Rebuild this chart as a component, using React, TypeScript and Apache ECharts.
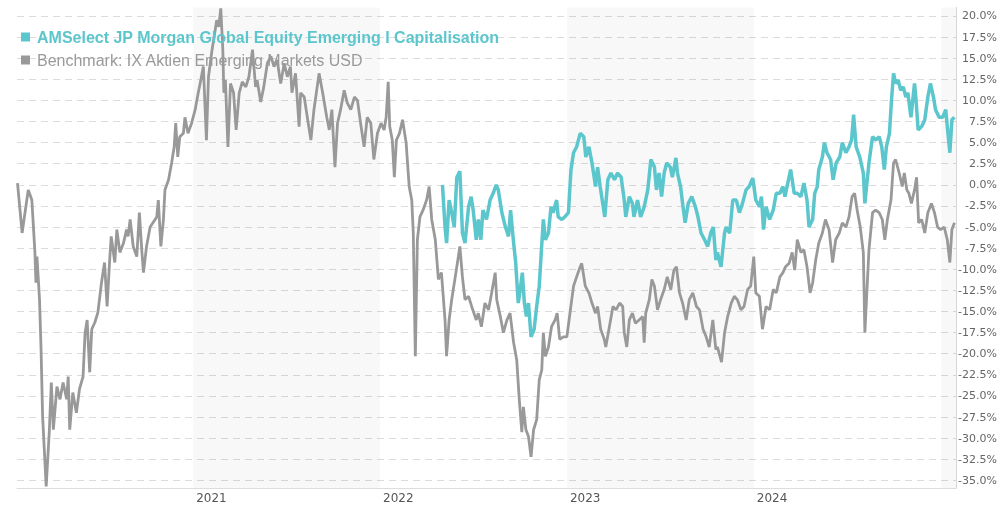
import React, { useEffect, useRef } from "react";
import * as echarts from "echarts";

const fundName = "AMSelect JP Morgan Global Equity Emerging I Capitalisation";
const benchName = "Benchmark: IX Aktien Emerging Markets USD";

const benchmark: [string, number][] = [
["2020-01-24",0.2],["2020-02-02",-5.7],["2020-02-14",-0.6],["2020-02-21",-1.8],["2020-02-27",-8],["2020-02-29",-11.6],["2020-03-02",-8.5],["2020-03-07",-13.6],["2020-03-10",-19.5],["2020-03-13",-27.4],["2020-03-20",-35.7],["2020-03-26",-29.3],["2020-03-30",-23.4],["2020-04-03",-29],["2020-04-10",-23.9],["2020-04-16",-25.4],["2020-04-22",-23.4],["2020-04-29",-25.4],["2020-05-02",-22.7],["2020-05-05",-29],["2020-05-11",-24.6],["2020-05-18",-27],["2020-05-24",-24.2],["2020-05-31",-22.7],["2020-06-04",-17.5],["2020-06-08",-16],["2020-06-13",-22.2],["2020-06-17",-17.1],["2020-06-23",-16.3],["2020-06-29",-15.1],["2020-07-06",-11.6],["2020-07-12",-9.2],["2020-07-17",-14.4],["2020-07-22",-8.9],["2020-07-25",-6.1],["2020-08-01",-9.2],["2020-08-05",-5.3],["2020-08-11",-8],["2020-08-18",-6.9],["2020-08-24",-5.3],["2020-08-27",-6.1],["2020-08-31",-4.1],["2020-09-06",-7.3],["2020-09-13",-8.5],["2020-09-18",-3.3],["2020-09-23",-8],["2020-09-26",-10.4],["2020-10-02",-7.3],["2020-10-09",-5],["2020-10-22",-3.8],["2020-10-25",-1.8],["2020-10-30",-7.3],["2020-11-04",-4.1],["2020-11-07",-0.6],["2020-11-14",0.6],["2020-11-20",2.6],["2020-11-25",4.5],["2020-11-28",7.3],["2020-12-02",3.3],["2020-12-06",5.7],["2020-12-13",6.1],["2020-12-16",8],["2020-12-22",6.1],["2020-12-29",7.3],
["2021-01-05",8.9],["2021-01-11",10.9],["2021-01-16",12.4],["2021-01-21",14],["2021-01-27",5.3],["2021-01-31",12.8],["2021-02-07",16],["2021-02-11",17.5],["2021-02-16",19.5],["2021-02-20",18.7],["2021-02-24",20.9],["2021-02-28",16],["2021-03-02",10.9],["2021-03-05",12.4],["2021-03-10",4.5],["2021-03-15",12],["2021-03-21",10.9],["2021-03-26",6.5],["2021-04-01",10.9],["2021-04-07",12.2],["2021-04-14",11.6],["2021-04-20",12.8],["2021-04-27",16],["2021-05-03",11.6],["2021-05-06",12.4],["2021-05-13",9.8],["2021-05-19",11.6],["2021-05-26",14.4],["2021-06-02",15.2],["2021-06-08",14],["2021-06-14",14.8],["2021-06-21",12],["2021-06-28",14.4],["2021-07-04",12.8],["2021-07-10",14],["2021-07-13",10.9],["2021-07-20",13.2],["2021-07-27",6.9],["2021-07-30",10.9],["2021-08-06",10.4],["2021-08-12",8],["2021-08-19",5.3],["2021-08-25",8.9],["2021-09-04",13.2],["2021-09-11",10.9],["2021-09-19",8],["2021-09-24",6.5],["2021-09-29",8.9],["2021-10-05",2.1],["2021-10-10",7.3],["2021-10-16",8.9],["2021-10-23",11.2],["2021-10-29",9.7],["2021-11-05",8.9],["2021-11-12",10.4],["2021-11-18",10],["2021-11-25",6.9],["2021-12-01",4.5],["2021-12-07",8],["2021-12-14",7.3],["2021-12-20",3],["2021-12-27",6.1],
["2022-01-03",7.3],["2022-01-09",6.5],["2022-01-13",8],["2022-01-17",12.2],["2022-01-20",6.9],["2022-01-25",5.3],["2022-01-29",0.9],["2022-02-02",5.3],["2022-02-08",6.1],["2022-02-14",7.7],["2022-02-21",5],["2022-02-27",-0.2],["2022-03-04",-1.8],["2022-03-07",-5.7],["2022-03-11",-20.3],["2022-03-15",-6.5],["2022-03-20",-3.8],["2022-03-26",-3],["2022-04-02",-1.8],["2022-04-07",-0.2],["2022-04-12",-4.1],["2022-04-19",-6.5],["2022-04-25",-11.2],["2022-05-01",-10.4],["2022-05-08",-16],["2022-05-11",-20.3],["2022-05-16",-16],["2022-05-21",-13.6],["2022-05-28",-10.9],["2022-06-03",-8.5],["2022-06-06",-7.3],["2022-06-11",-10.9],["2022-06-16",-13.6],["2022-06-23",-13.2],["2022-06-29",-14.4],["2022-07-08",-16],["2022-07-12",-15.2],["2022-07-18",-16.8],["2022-07-25",-14],["2022-08-01",-14.8],["2022-08-07",-12.8],["2022-08-14",-10.4],["2022-08-17",-13.6],["2022-08-24",-15.6],["2022-08-30",-17.5],["2022-09-06",-16],["2022-09-12",-15.2],["2022-09-19",-18.7],["2022-09-25",-20.7],["2022-09-30",-25.4],["2022-10-05",-29.3],["2022-10-08",-26.3],["2022-10-13",-29],["2022-10-18",-29.8],["2022-10-23",-32.2],["2022-10-28",-29],["2022-11-03",-27.8],["2022-11-08",-23.1],["2022-11-13",-21.9],["2022-11-16",-17.5],["2022-11-20",-20.3],["2022-11-26",-19.2],["2022-12-02",-16.8],["2022-12-09",-16],["2022-12-13",-15.2],["2022-12-18",-18.3],["2022-12-25",-18],
["2023-01-01",-18],["2023-01-07",-15.2],["2023-01-14",-12],["2023-01-20",-10.9],["2023-01-27",-9.7],["2023-01-30",-9.3],["2023-02-06",-12],["2023-02-13",-12.8],["2023-02-19",-14],["2023-02-26",-15.2],["2023-03-02",-14.4],["2023-03-08",-17.1],["2023-03-15",-18.3],["2023-03-18",-19.2],["2023-03-25",-16.8],["2023-04-01",-14.4],["2023-04-07",-14.8],["2023-04-14",-14],["2023-04-20",-14.4],["2023-04-23",-17.5],["2023-04-28",-19.2],["2023-05-03",-16],["2023-05-09",-15.2],["2023-05-15",-16.4],["2023-05-22",-16],["2023-05-29",-15.6],["2023-06-01",-18.7],["2023-06-04",-15.2],["2023-06-11",-13.6],["2023-06-16",-11.2],["2023-06-21",-12],["2023-06-27",-14.8],["2023-07-03",-13.6],["2023-07-10",-12.4],["2023-07-16",-10.9],["2023-07-23",-12.4],["2023-07-29",-10.1],["2023-08-03",-9.7],["2023-08-09",-12.8],["2023-08-15",-14],["2023-08-22",-16],["2023-08-28",-13.6],["2023-09-04",-12.8],["2023-09-11",-14.4],["2023-09-17",-14.8],["2023-09-24",-17.1],["2023-09-30",-18],["2023-10-06",-19.2],["2023-10-13",-16],["2023-10-19",-19.5],["2023-10-22",-19.2],["2023-10-30",-21],["2023-11-05",-17.5],["2023-11-11",-15.6],["2023-11-18",-14],["2023-11-24",-13.2],["2023-11-30",-13.6],["2023-12-07",-14.8],["2023-12-13",-14.4],["2023-12-20",-12.4],["2023-12-26",-12],
["2024-01-01",-8.5],["2024-01-05",-12.8],["2024-01-12",-13.2],["2024-01-18",-17.1],["2024-01-25",-14.4],["2024-02-01",-14.8],["2024-02-08",-12.4],["2024-02-14",-12.8],["2024-02-21",-10.9],["2024-02-27",-10.4],["2024-03-03",-9.7],["2024-03-10",-9.3],["2024-03-16",-8],["2024-03-21",-10.1],["2024-03-26",-6.5],["2024-04-02",-8],["2024-04-08",-7.7],["2024-04-14",-9.7],["2024-04-20",-12.8],["2024-04-25",-11.6],["2024-05-01",-8.9],["2024-05-07",-6.9],["2024-05-14",-5.7],["2024-05-20",-4.1],["2024-05-27",-5.3],["2024-06-03",-9.2],["2024-06-09",-6.5],["2024-06-16",-5.7],["2024-06-22",-4.5],["2024-06-29",-5],["2024-07-05",-3.8],["2024-07-11",-1.4],["2024-07-16",-1],["2024-07-21",-3],["2024-07-27",-5],["2024-08-02",-8],["2024-08-05",-17.5],["2024-08-13",-7.7],["2024-08-20",-3.3],["2024-08-26",-3],["2024-09-02",-3.3],["2024-09-08",-4.1],["2024-09-13",-6.5],["2024-09-18",-4.1],["2024-09-25",-1.8],["2024-09-30",2.6],["2024-10-04",3],["2024-10-11",1.4],["2024-10-17",-0.2],["2024-10-21",1.4],["2024-10-26",-0.6],["2024-10-30",-1],["2024-11-04",-2.2],["2024-11-10",-0.6],["2024-11-14",0.9],["2024-11-18",-4.5],["2024-11-24",-4.1],["2024-11-30",-5.7],["2024-12-06",-3.3],["2024-12-13",-2.2],["2024-12-19",-3.3],["2024-12-25",-5],["2024-12-31",-5.3],["2025-01-07",-5],["2025-01-13",-6.5],["2025-01-18",-9.2],["2025-01-22",-5.3],["2025-01-27",-4.5]
];

const fund: [string, number][] = [
["2022-05-03",0],["2022-05-08",-5],["2022-05-11",-6.9],["2022-05-16",-1.8],["2022-05-21",-3.3],["2022-05-26",-5],["2022-05-31",0.9],["2022-06-06",1.6],["2022-06-11",-5.7],["2022-06-16",-6.9],["2022-06-23",-2.6],["2022-06-28",-1.4],["2022-07-02",-3],["2022-07-08",-6.5],["2022-07-12",-4.1],["2022-07-17",-6.5],["2022-07-21",-3],["2022-07-28",-4.1],["2022-08-04",-1.8],["2022-08-10",-1],["2022-08-16",0],["2022-08-20",-0.6],["2022-08-27",-3.3],["2022-09-03",-5],["2022-09-09",-6.1],["2022-09-13",-3],["2022-09-19",-6.9],["2022-09-23",-9.2],["2022-09-28",-14],["2022-10-01",-12.8],["2022-10-06",-10.4],["2022-10-10",-14],["2022-10-14",-15.6],["2022-10-18",-14],["2022-10-23",-18],["2022-10-29",-17.1],["2022-11-03",-14.4],["2022-11-08",-12],["2022-11-12",-8],["2022-11-16",-4.1],["2022-11-20",-6.5],["2022-11-26",-5.7],["2022-12-01",-2.6],["2022-12-05",-3.3],["2022-12-12",-1.8],["2022-12-15",-3.8],["2022-12-22",-4.1],["2022-12-28",-3.8],
["2023-01-04",-3.3],["2023-01-09",1.8],["2023-01-14",3.8],["2023-01-20",4.5],["2023-01-27",6.1],["2023-02-03",5.7],["2023-02-07",3.3],["2023-02-13",4.5],["2023-02-19",2.6],["2023-02-26",-0.2],["2023-03-02",2.1],["2023-03-07",-0.2],["2023-03-12",-2.2],["2023-03-16",-3.8],["2023-03-22",0.6],["2023-03-28",1.4],["2023-04-04",0.6],["2023-04-10",1.4],["2023-04-17",0.9],["2023-04-23",-1.8],["2023-04-26",-3.8],["2023-05-03",-1.4],["2023-05-09",-2.2],["2023-05-12",-3.8],["2023-05-19",-1.8],["2023-05-25",-3.8],["2023-06-01",-2.6],["2023-06-08",-0.6],["2023-06-14",3],["2023-06-21",2.1],["2023-06-25",-0.6],["2023-06-30",1.4],["2023-07-05",-1.4],["2023-07-10",1.4],["2023-07-15",2.6],["2023-07-22",2.1],["2023-07-26",0.9],["2023-08-02",3.2],["2023-08-05",1.4],["2023-08-11",-0.2],["2023-08-15",-2.2],["2023-08-20",-4.5],["2023-08-26",-2.2],["2023-09-02",-1.4],["2023-09-09",-2.6],["2023-09-14",-3.8],["2023-09-20",-5.7],["2023-09-27",-6.5],["2023-10-03",-7.3],["2023-10-09",-5.7],["2023-10-14",-5],["2023-10-19",-8.9],["2023-10-22",-8],["2023-10-29",-9.7],["2023-11-05",-5.7],["2023-11-08",-5],["2023-11-15",-5.7],["2023-11-21",-1.8],["2023-11-28",-1.8],["2023-12-04",-3.3],["2023-12-10",-2.2],["2023-12-17",-0.6],["2023-12-23",-0.2],["2023-12-30",0.8],
["2024-01-05",-1.8],["2024-01-12",-2.6],["2024-01-16",-1.4],["2024-01-20",-5.3],["2024-01-25",-2.6],["2024-02-01",-4.1],["2024-02-08",-3],["2024-02-14",-1],["2024-02-21",-1],["2024-02-27",-0.2],["2024-03-02",-1.4],["2024-03-06",-0.2],["2024-03-13",1.8],["2024-03-20",-1],["2024-03-26",-1],["2024-04-02",-1.4],["2024-04-08",0.2],["2024-04-14",-1.8],["2024-04-18",-5],["2024-04-25",-4.1],["2024-04-29",-1],["2024-05-04",-0.2],["2024-05-07",1.8],["2024-05-14",3.3],["2024-05-18",5],["2024-05-23",3.8],["2024-05-30",3],["2024-06-04",0.6],["2024-06-10",2.6],["2024-06-17",3.3],["2024-06-22",5],["2024-06-29",3.8],["2024-07-05",4.5],["2024-07-10",5.3],["2024-07-14",8.3],["2024-07-19",4.5],["2024-07-26",3.3],["2024-08-02",1.4],["2024-08-05",-2.2],["2024-08-13",2.6],["2024-08-20",5.7],["2024-08-26",5.3],["2024-09-02",5.7],["2024-09-07",4.5],["2024-09-12",1.8],["2024-09-16",4.5],["2024-09-22",6.1],["2024-09-26",10],["2024-09-30",13.2],["2024-10-04",12],["2024-10-09",12.4],["2024-10-14",11.2],["2024-10-19",11.6],["2024-10-24",10.4],["2024-10-28",10.9],["2024-11-03",8],["2024-11-10",12],["2024-11-13",10],["2024-11-17",6.5],["2024-11-24",6.9],["2024-11-30",7.7],["2024-12-06",10.4],["2024-12-11",12],["2024-12-17",10.4],["2024-12-21",8.9],["2024-12-28",8],["2025-01-04",8],["2025-01-10",8.9],["2025-01-13",6.9],["2025-01-18",3.8],["2025-01-22",7.7],["2025-01-27",8]
];

const yearTicks = ["2021-01-01", "2022-01-01", "2023-01-01", "2024-01-01"];
const yTicks = [-35, -32.5, -30, -27.5, -25, -22.5, -20, -17.5, -15, -12.5, -10, -7.5, -5, -2.5, 0, 2.5, 5, 7.5, 10, 12.5, 15, 17.5, 20];
const shadedYears: [string, string][] = [
  ["2021-01-01", "2022-01-01"],
  ["2023-01-01", "2024-01-01"],
  ["2025-01-01", "2025-01-30"],
];
const xRange = ["2020-01-23", "2025-01-30"];
const yRange = [-35.9, 21];

const TEAL = "#5cc6cd";
const GREY = "#999999";

const toTs = (s: string) => {
  const [y, m, d] = s.split("-").map(Number);
  return new Date(y, m - 1, d).getTime();
};

export default function App() {
  const ref = useRef<HTMLDivElement>(null);
  useEffect(() => {
    const chart = echarts.init(ref.current!, null, { renderer: "svg" });
    chart.setOption({
      animation: false,
      grid: { left: 17, right: 41.5, top: 7.5, bottom: 19, containLabel: false },
      legend: {
        orient: "vertical",
        left: 16,
        top: 24,
        itemGap: 7,
        itemWidth: 13,
        itemHeight: 9,
        icon: "path://M0,0h9v9h-9z",
        selectedMode: false,
        data: [
          {
            name: fundName,
            textStyle: { color: TEAL, fontWeight: "bold", fontSize: 16, fontFamily: "Liberation Sans", lineHeight: 16 },
          },
          {
            name: benchName,
            textStyle: { color: "#9a9a9a", fontWeight: "normal", fontSize: 16, fontFamily: "Liberation Sans", lineHeight: 16 },
          },
        ],
      },
      xAxis: {
        type: "value",
        min: toTs(xRange[0]),
        max: toTs(xRange[1]),
        axisLine: { show: true, onZero: false, lineStyle: { color: "#dddddd", width: 1 } },
        axisTick: { show: false, customValues: yearTicks.map(toTs) },
        splitLine: { show: false },
        axisLabel: {
          customValues: yearTicks.map(toTs),
          formatter: (v: number) => String(new Date(v).getFullYear()),
          align: "left",
          margin: 4,
          padding: [0, 0, 0, 3],
          color: "#555555",
          fontSize: 12,
          fontFamily: "DejaVu Sans",
        },
      },
      yAxis: {
        type: "value",
        position: "right",
        min: yRange[0],
        max: yRange[1],
        axisLine: { show: true, lineStyle: { color: "#d6d6d6", width: 1 } },
        axisTick: { show: false, customValues: yTicks },
        splitLine: { show: true, lineStyle: { color: "#dcdcdc", type: [7, 5], width: 1 } },
        axisLabel: {
          customValues: yTicks,
          formatter: (v: number) => v.toFixed(1) + "%",
          align: "right",
          margin: 41,
          color: "#666666",
          fontSize: 11,
          fontFamily: "DejaVu Sans",
        },
      },
      series: [
        {
          name: benchName,
          type: "line",
          data: benchmark.map(([d, v]) => [toTs(d), v]),
          showSymbol: false,
          symbol: "none",
          lineStyle: { color: GREY, width: 2.8 },
          itemStyle: { color: GREY },
          z: 2,
          markArea: {
            silent: true,
            itemStyle: { color: "rgba(0,0,0,0.028)" },
            data: shadedYears.map(([a, b]) => [{ xAxis: toTs(a) }, { xAxis: toTs(b) }]),
          },
        },
        {
          name: fundName,
          type: "line",
          data: fund.map(([d, v]) => [toTs(d), v]),
          showSymbol: false,
          symbol: "none",
          lineStyle: { color: TEAL, width: 3.5 },
          itemStyle: { color: TEAL },
          z: 3,
        },
      ],
    });
    return () => chart.dispose();
  }, []);
  return <div ref={ref} style={{ position: "fixed", left: 0, top: 0, width: 1000, height: 507 }} />;
}
